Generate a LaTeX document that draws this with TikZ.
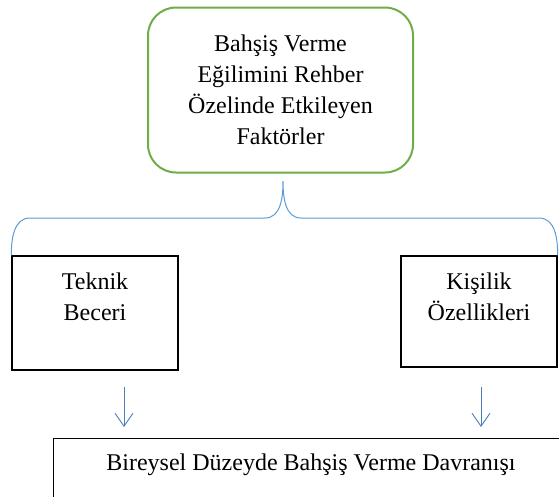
\documentclass[tikz,border=0pt]{standalone}
\usepackage{fontspec}
\setmainfont{Liberation Serif}
\usetikzlibrary{arrows.meta}
\definecolor{yesil}{HTML}{70AD47}
\definecolor{mavi}{HTML}{5B9BD5}
\definecolor{okmavi}{HTML}{4A7EBB}

\begin{document}
\begin{tikzpicture}[x=1pt,y=-1pt,
  kutu/.style={draw, line width=1.4pt, rectangle, inner sep=0pt},
  yazi/.style={align=center, font=\rmfamily\fontsize{24}{31}\selectfont},
  okcizgi/.style={draw=okmavi, line width=0.9pt, -{Straight Barb[length=13pt,width=18pt]}}]
\useasboundingbox (0,0) rectangle (559,496);
\clip (0,0) rectangle (559,496);

\node[yazi, draw=yesil, line width=2pt, rounded corners=28pt, minimum width=265pt, minimum height=165pt] (faktor) at (280.5,90) {Bahşiş Verme\\Eğilimini Rehber\\Özelinde Etkileyen\\Faktörler};

\node[kutu, minimum width=166pt, minimum height=114pt] (teknik) at (95,313) {};
\node[yazi] (teknikYazi) at (95,297) {Teknik\\Beceri};
\node[kutu, minimum width=156pt, minimum height=111pt] (kisilik) at (479,311.5) {};
\node[yazi] (kisilikYazi) at (479,297) {Kişilik\\Özellikleri};

\node[kutu, anchor=north west, minimum width=530pt, minimum height=80pt] (davranis) at (53,438) {};
\node[yazi] (davranisYazi) at (311,465) {Bireysel Düzeyde Bahşiş Verme Davranışı};

% ayrim cizgisi
\coordinate (uc) at (283,181);
\draw[mavi, line width=1pt] (teknik.north west) to[out=90,in=180] (30,218) -- (265,218)
  to[out=0,in=-90] (uc) to[out=-90,in=180] (301,218) -- (539,218) to[out=0,in=90] (kisilik.north east);

\coordinate (ok1b) at (124,387);
\coordinate (ok1s) at (124,427);
\coordinate (ok2b) at (481,387);
\coordinate (ok2s) at (481,427);
\draw[okcizgi] (ok1b) -- (ok1s);
\draw[okcizgi] (ok2b) -- (ok2s);
\end{tikzpicture}
\end{document}
